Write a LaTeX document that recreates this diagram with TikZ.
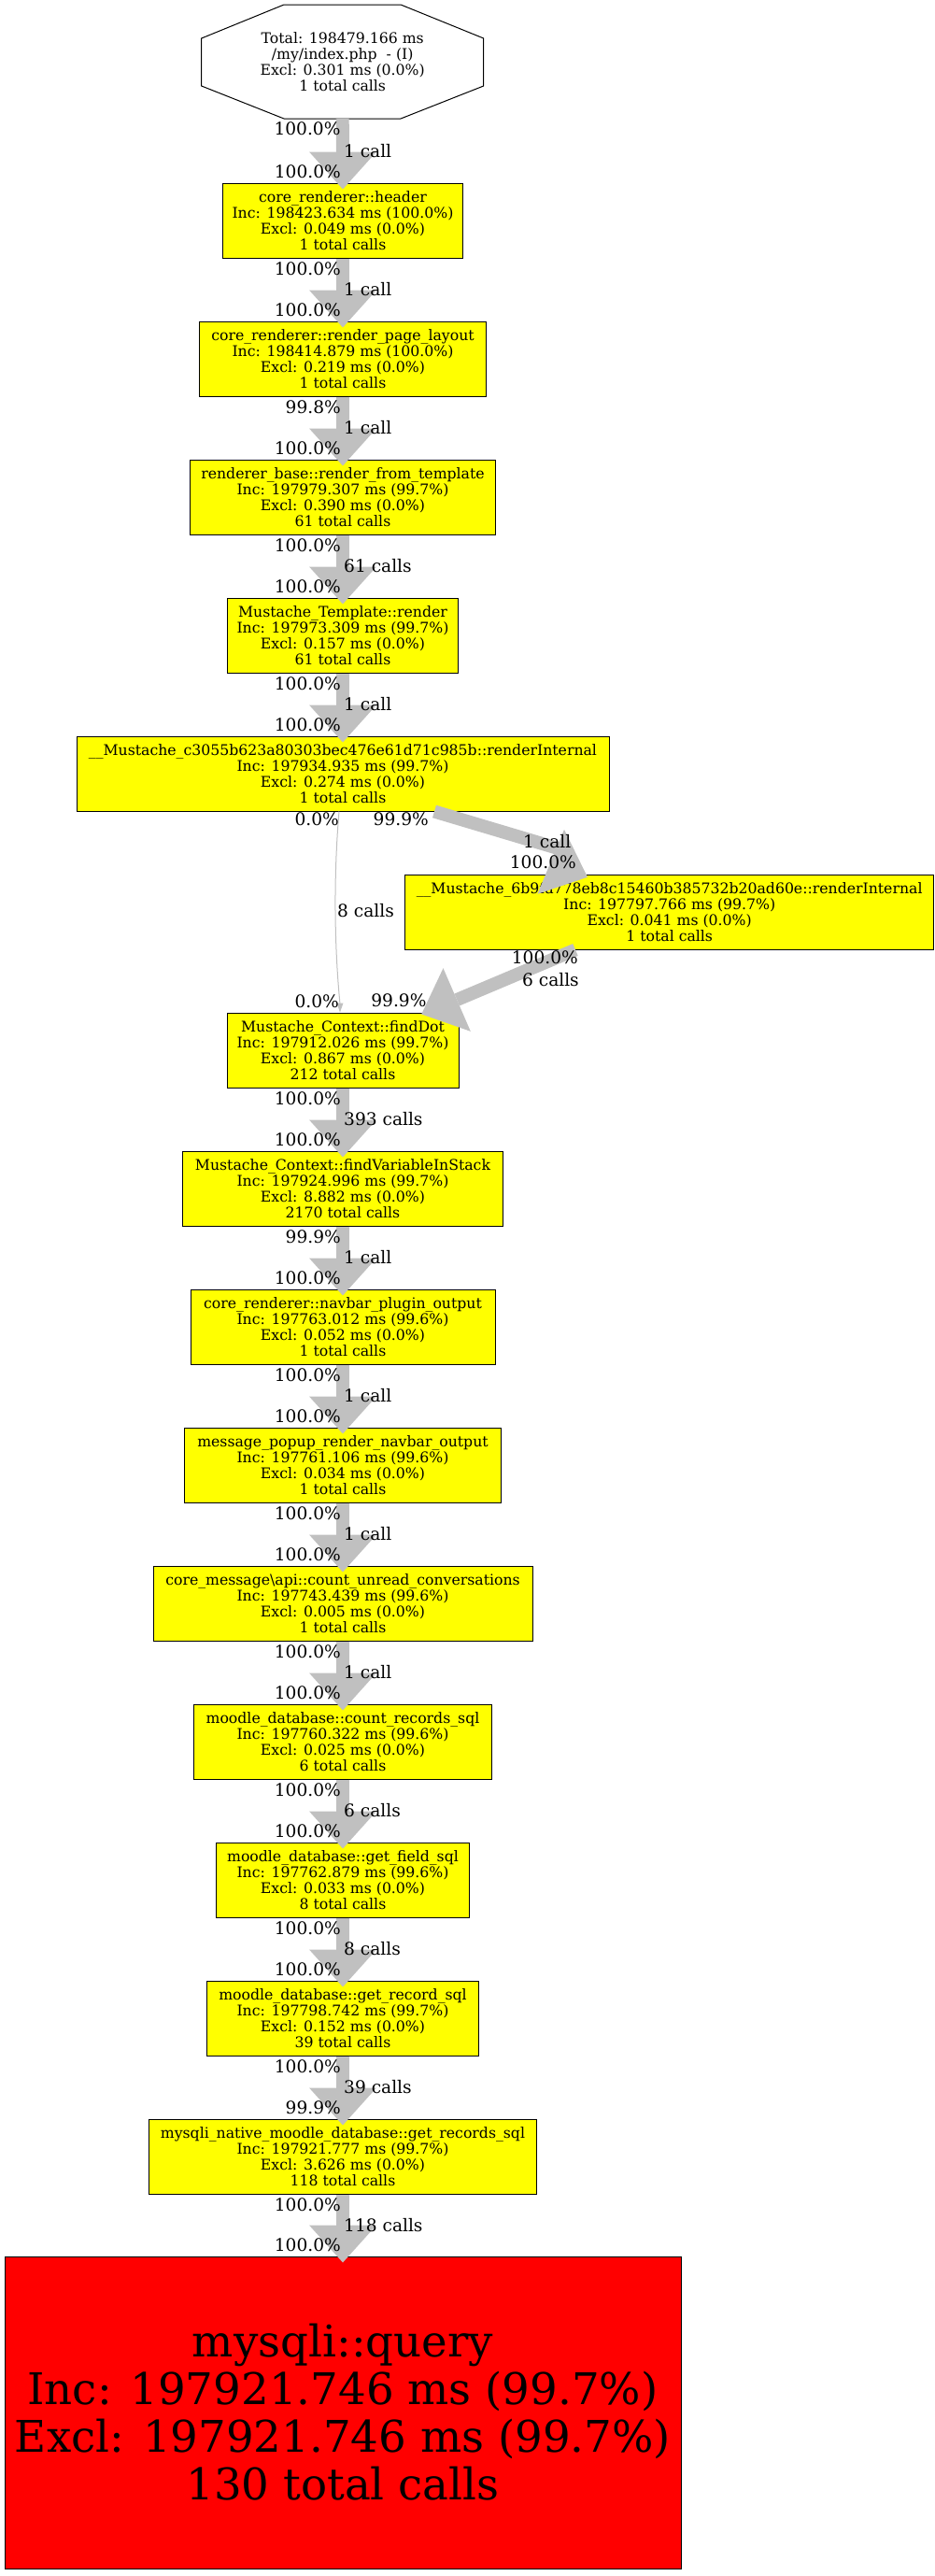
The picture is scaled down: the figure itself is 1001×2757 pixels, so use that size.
\documentclass[tikz,border=0pt]{standalone}
\usepackage{fontspec}
\setmainfont{DejaVu Serif}
\usetikzlibrary{calc}
\definecolor{edgegray}{HTML}{C0C0C0}
\definecolor{fnyellow}{HTML}{FFFF00}
\definecolor{hotred}{HTML}{FF0000}
\tikzset{
  fnbox/.style={draw=black, line width=1pt, fill=fnyellow, rectangle, minimum height=80pt, inner sep=0pt, align=center, font=\fontsize{15.7}{17}\selectfont},
  lbl/.style={font=\fontsize{18.6}{20}\selectfont, inner sep=0pt},
  shaft/.style={draw=edgegray, line width=14pt},
}
\newcommand\vedge[2]{%
  \draw[shaft] (#1.south) -- ($(#2.north)+(0,-30)$);
  \fill[edgegray] ($(#2.north)+(-36,-33)$) -- ($(#2.north)+(36,-33)$) -- ($(#2.north)+(0,7)$) -- cycle;
}
\newcommand\vlabels[5]{%
  \node[lbl, anchor=east] (#1-t) at ($(#1.south)+(-2,11)$) {#3};
  \node[lbl, anchor=west] (#1-m) at ($($(#1.south)!0.5!(#2.north)$)+(1,0)$) {#4};
  \node[lbl, anchor=east] (#1-h) at ($(#2.north)+(-2,-12)$) {#5};
}
\begin{document}
\begin{tikzpicture}[x=1pt,y=-1pt]
\useasboundingbox (0,0) rectangle (1001,2757);
% root octagon
\draw[line width=1pt, fill=white] (304,5) -- (429,5) -- (517.7,41) -- (517.7,92) -- (429,127) -- (304,127) -- (215.7,92) -- (215.7,41) -- cycle;
\node[inner sep=0pt, align=center, font=\fontsize{15.7}{17}\selectfont, minimum width=302pt, minimum height=122pt] (root) at (366.7,66) {Total: 198479.166 ms\\/my/index.php\ \ - (I)\\Excl: 0.301 ms (0.0\%)\\1 total calls};
% function nodes
\node[fnbox, minimum width=257pt] (hdr) at (367,236) {core\_renderer::header\\Inc: 198423.634 ms (100.0\%)\\Excl: 0.049 ms (0.0\%)\\1 total calls};
\node[fnbox, minimum width=307pt] (lay) at (367,384) {core\_renderer::render\_page\_layout\\Inc: 198414.879 ms (100.0\%)\\Excl: 0.219 ms (0.0\%)\\1 total calls};
\node[fnbox, minimum width=327pt] (rft) at (367,532) {renderer\_base::render\_from\_template\\Inc: 197979.307 ms (99.7\%)\\Excl: 0.390 ms (0.0\%)\\61 total calls};
\node[fnbox, minimum width=247pt] (mtr) at (367,680) {Mustache\_Template::render\\Inc: 197973.309 ms (99.7\%)\\Excl: 0.157 ms (0.0\%)\\61 total calls};
\node[fnbox, minimum width=570pt] (c305) at (367,828) {\_\_Mustache\_c3055b623a80303bec476e61d71c985b::renderInternal\\Inc: 197934.935 ms (99.7\%)\\Excl: 0.274 ms (0.0\%)\\1 total calls};
\node[fnbox, minimum width=566pt] (m6b) at (716.7,976) {\_\_Mustache\_6b9fa778eb8c15460b385732b20ad60e::renderInternal\\Inc: 197797.766 ms (99.7\%)\\Excl: 0.041 ms (0.0\%)\\1 total calls};
\node[fnbox, minimum width=248pt] (fdot) at (367,1124) {Mustache\_Context::findDot\\Inc: 197912.026 ms (99.7\%)\\Excl: 0.867 ms (0.0\%)\\212 total calls};
\node[fnbox, minimum width=343pt] (fvis) at (367,1272) {Mustache\_Context::findVariableInStack\\Inc: 197924.996 ms (99.7\%)\\Excl: 8.882 ms (0.0\%)\\2170 total calls};
\node[fnbox, minimum width=326pt] (nav) at (367,1420) {core\_renderer::navbar\_plugin\_output\\Inc: 197763.012 ms (99.6\%)\\Excl: 0.052 ms (0.0\%)\\1 total calls};
\node[fnbox, minimum width=339pt] (mpop) at (367,1568) {message\_popup\_render\_navbar\_output\\Inc: 197761.106 ms (99.6\%)\\Excl: 0.034 ms (0.0\%)\\1 total calls};
\node[fnbox, minimum width=406pt] (cunr) at (367,1716) {core\_message\textbackslash api::count\_unread\_conversations\\Inc: 197743.439 ms (99.6\%)\\Excl: 0.005 ms (0.0\%)\\1 total calls};
\node[fnbox, minimum width=319pt] (crec) at (367,1864) {moodle\_database::count\_records\_sql\\Inc: 197760.322 ms (99.6\%)\\Excl: 0.025 ms (0.0\%)\\6 total calls};
\node[fnbox, minimum width=271pt] (gfld) at (367,2012) {moodle\_database::get\_field\_sql\\Inc: 197762.879 ms (99.6\%)\\Excl: 0.033 ms (0.0\%)\\8 total calls};
\node[fnbox, minimum width=291pt] (grec) at (367,2160) {moodle\_database::get\_record\_sql\\Inc: 197798.742 ms (99.7\%)\\Excl: 0.152 ms (0.0\%)\\39 total calls};
\node[fnbox, minimum width=415pt] (grecs) at (367,2308) {mysqli\_native\_moodle\_database::get\_records\_sql\\Inc: 197921.777 ms (99.7\%)\\Excl: 3.626 ms (0.0\%)\\118 total calls};
\node[fnbox, fill=hotred, minimum width=724pt, minimum height=334pt, font=\fontsize{46.7}{51}\selectfont] (mysq) at (367,2582) {mysqli::query\\Inc: 197921.746 ms (99.7\%)\\Excl: 197921.746 ms (99.7\%)\\130 total calls};
% vertical edges
\vedge{root}{hdr}
\vedge{hdr}{lay}
\vedge{lay}{rft}
\vedge{rft}{mtr}
\vedge{mtr}{c305}
\vedge{fdot}{fvis}
\vedge{fvis}{nav}
\vedge{nav}{mpop}
\vedge{mpop}{cunr}
\vedge{cunr}{crec}
\vedge{crec}{gfld}
\vedge{gfld}{grec}
\vedge{grec}{grecs}
\vedge{grecs}{mysq}
% c305 -> m6b
\draw[shaft] ($(c305.south)+(98,0)$) -- ($(m6b.north west)+(176,-24)$);
\fill[edgegray] ($(m6b.north west)+(170.8,-47.7)$) -- ($(m6b.north west)+(195.8,3.3)$) -- ($(m6b.north west)+(142.2,21.3)$) -- cycle;
% m6b -> fdot
\draw[shaft] ($(m6b.south)+(-100.7,0)$) -- ($(fdot.north east)+(-2.3,-13.5)$);
\fill[edgegray] ($(fdot.north east)+(-17,-47.3)$) -- ($(fdot.north east)+(12.3,20.3)$) -- ($(fdot.north east)+(-40.3,2)$) -- cycle;
% c305 -> fdot (thin)
\draw[edgegray, line width=1pt] ($(c305.south)+(-4,0)$) .. controls ($(c305.south)+(-10,70)$) and ($(fdot.north)+(-9,-70)$) .. ($(fdot.north)+(-3,-9)$);
\fill[edgegray] ($(fdot.north)+(-6.5,-10)$) -- ($(fdot.north)+(0.5,-10)$) -- ($(fdot.north)+(-3,0)$) -- cycle;
% labels
\vlabels{root}{hdr}{100.0\%}{1 call}{100.0\%}
\vlabels{hdr}{lay}{100.0\%}{1 call}{100.0\%}
\vlabels{lay}{rft}{99.8\%}{1 call}{100.0\%}
\vlabels{rft}{mtr}{100.0\%}{61 calls}{100.0\%}
\vlabels{mtr}{c305}{100.0\%}{1 call}{100.0\%}
\vlabels{fdot}{fvis}{100.0\%}{393 calls}{100.0\%}
\vlabels{fvis}{nav}{99.9\%}{1 call}{100.0\%}
\vlabels{nav}{mpop}{100.0\%}{1 call}{100.0\%}
\vlabels{mpop}{cunr}{100.0\%}{1 call}{100.0\%}
\vlabels{cunr}{crec}{100.0\%}{1 call}{100.0\%}
\vlabels{crec}{gfld}{100.0\%}{6 calls}{100.0\%}
\vlabels{gfld}{grec}{100.0\%}{8 calls}{100.0\%}
\vlabels{grec}{grecs}{100.0\%}{39 calls}{99.9\%}
\vlabels{grecs}{mysq}{100.0\%}{118 calls}{100.0\%}
\node[lbl, anchor=east] (l7t) at (363,877) {0.0\%};
\node[lbl, anchor=west] (l7m) at (361,975) {8 calls};
\node[lbl, anchor=east] (l7h) at (363,1072) {0.0\%};
\node[lbl, anchor=east] (l6t) at (459,877) {99.9\%};
\node[lbl] (l6m) at (585.7,900.7) {1 call};
\node[lbl, anchor=east] (l6h) at (617,922.7) {100.0\%};
\node[lbl, anchor=east] (l8t) at (619,1025) {100.0\%};
\node[lbl, anchor=east] (l8m) at (620,1049) {6 calls};
\node[lbl, anchor=east] (l8h) at (456.7,1071) {99.9\%};
\end{tikzpicture}
\end{document}
